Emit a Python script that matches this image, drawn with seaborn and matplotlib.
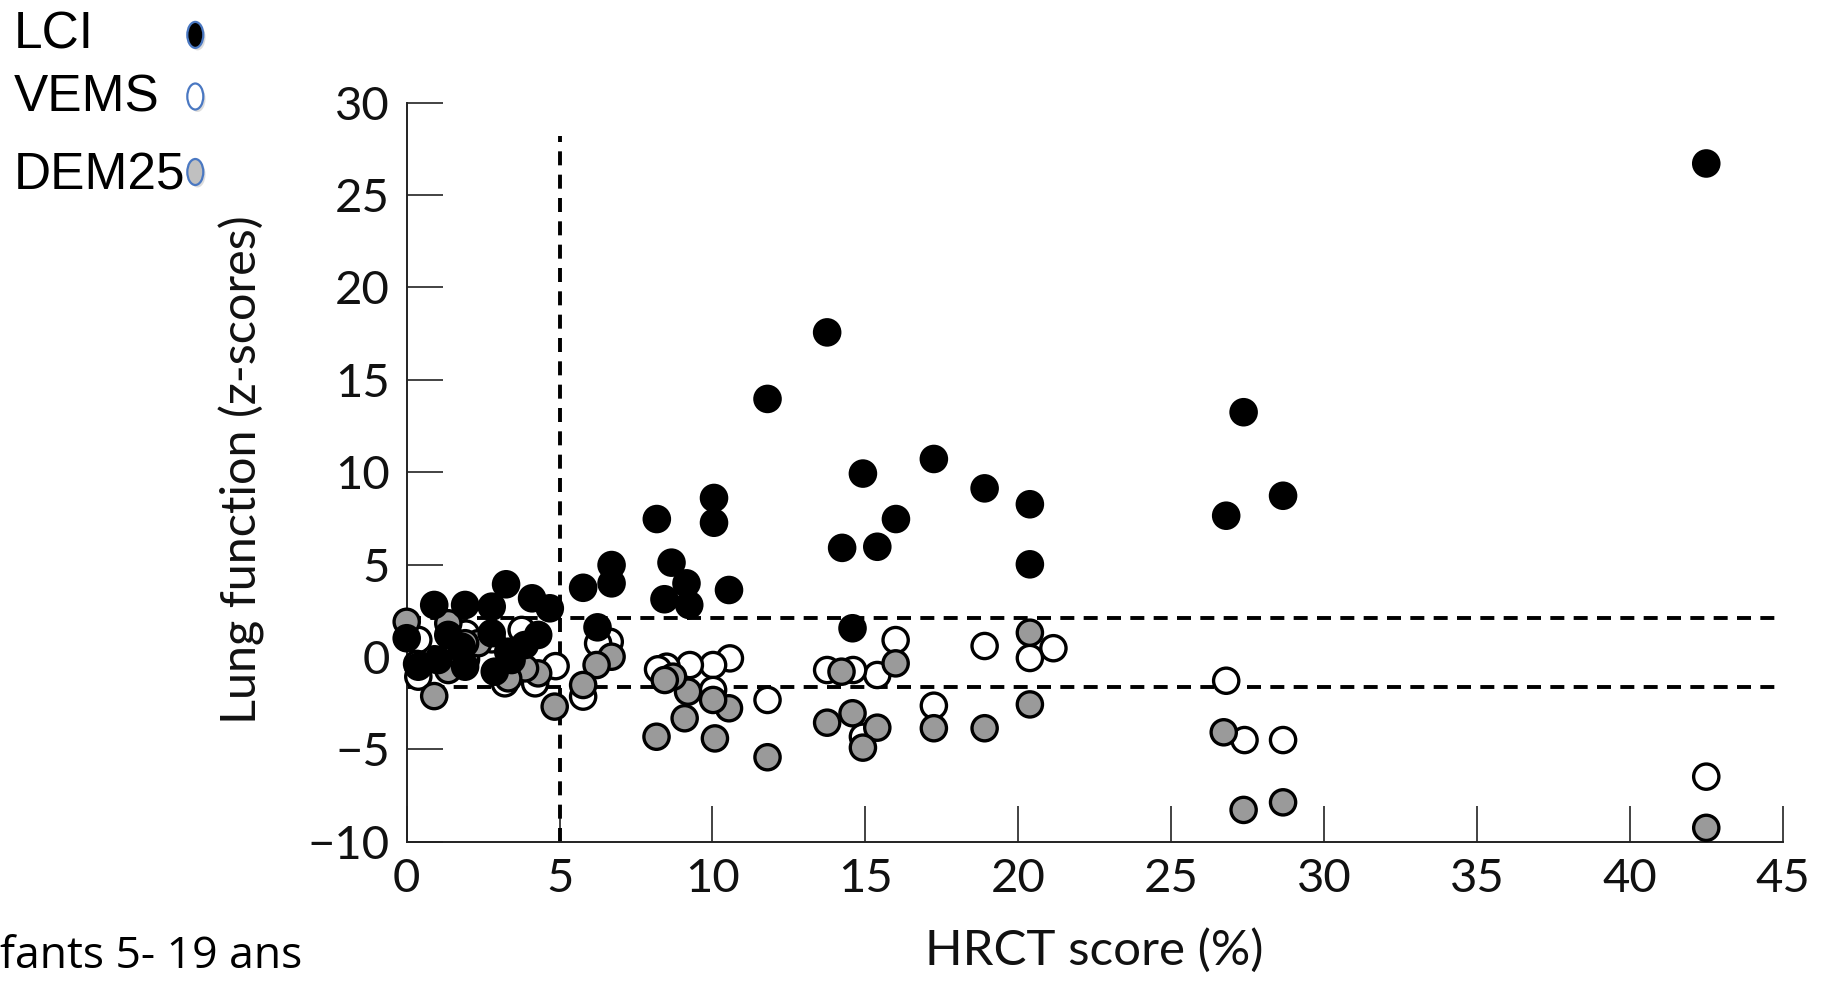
import matplotlib
matplotlib.use("Agg")
import matplotlib.pyplot as plt
from matplotlib.patches import Ellipse
import seaborn as sns
import pandas as pd

# ---------------- data ----------------
lci_x = [42.5, 28.66, 27.37, 26.8, 20.38, 20.38, 18.9, 17.24, 16.0, 15.39, 14.92, 14.24,
         14.58, 13.75, 11.8, 10.54, 10.05, 10.05, 9.24, 9.15, 8.66, 8.43, 8.18, 6.70, 6.70,
         6.24, 5.77, 4.68, 4.10, 3.25, 2.78, 1.91, 0.90, 0.0, 1.36, 2.78, 4.3, 3.86, 1.80,
         0.38, 1.03, 1.91, 2.88, 3.32, 3.43]
lci_y = [26.7, 8.72, 13.24, 7.64, 8.26, 5.01, 9.12, 10.71, 7.46, 5.96, 9.92, 5.9,
         1.55, 17.56, 13.96, 3.62, 8.6, 7.26, 2.81, 3.98, 5.10, 3.12, 7.46, 4.97, 3.98,
         1.60, 3.74, 2.63, 3.17, 3.93, 2.72, 2.81, 2.81, 1.01, 1.19, 1.28, 1.19, 0.64, 0.55,
         -0.53, -0.17, -0.53, -0.8, 0.28, -0.17]

vems_x = [42.5, 28.66, 27.4, 26.8, 21.15, 20.38, 18.9, 17.24, 15.99, 15.39, 14.6, 13.75,
          14.92, 11.8, 10.57, 10.02, 10.02, 9.26, 8.5, 8.22, 6.64, 6.26, 5.77, 4.87, 4.2,
          3.21, 3.76, 2.78, 1.94, 0.38, 0.38, 0.91, 1.94]
vems_y = [-6.48, -4.5, -4.5, -1.29, 0.47, -0.06, 0.59, -2.64, 0.91, -0.98, -0.71, -0.71,
          -4.32, -2.33, -0.08, -0.44, -1.79, -0.44, -0.53, -0.67, 0.82, 0.73, -2.15, -0.5, -1.43,
          -1.43, 1.46, 0.95, 1.26, 0.92, -1.07, -0.13, -0.13]

dem_x = [42.5, 28.66, 27.37, 26.72, 20.38, 20.38, 18.9, 17.24, 15.99, 15.39, 14.92, 14.58,
         14.22, 13.75, 11.8, 10.54, 10.08, 10.02, 9.2, 9.09, 8.71, 8.44, 8.17, 6.70, 6.21,
         5.77, 4.84, 4.3, 3.87, 3.32, 2.34, 1.91, 1.36, 1.36, 0.9, 0.0, 0.34]
dem_y = [-9.25, -7.87, -8.28, -4.08, 1.31, -2.57, -3.86, -3.86, -0.35, -3.83, -4.91, -3.05,
         -0.8, -3.56, -5.43, -2.78, -4.41, -2.33, -1.88, -3.32, -1.07, -1.25, -4.32, 0.01, -0.44,
         -1.52, -2.69, -0.89, -0.62, -1.16, 0.74, 0.74, 1.82, -0.71, -2.12, 1.9, -0.38]

series_names = ["VEMS", "DEM25", "LCI"]
legend_labels = ["LCI", "VEMS", "DEM25"]
upper_limit = 2.1
lower_limit = -1.64
hrct_cut = 5
xticks = [0, 5, 10, 15, 20, 25, 30, 35, 40, 45]
yticks = [-10, -5, 0, 5, 10, 15, 20, 25, 30]

df = pd.concat([
    pd.DataFrame({"x": vems_x, "y": vems_y, "series": "VEMS"}),
    pd.DataFrame({"x": dem_x, "y": dem_y, "series": "DEM25"}),
    pd.DataFrame({"x": lci_x, "y": lci_y, "series": "LCI"}),
], ignore_index=True)

# ---------------- style ----------------
sns.set_style("white")
plt.rcParams["font.family"] = ["Lato", "DejaVu Sans"]
plt.rcParams["axes.unicode_minus"] = True

W, H = 1823, 981
fig = plt.figure(figsize=(W / 100, H / 100), dpi=100)
x0, x1 = 406.7, 1782.7
yb, yt = 841.7, 102.5
ax = fig.add_axes([x0 / W, 1 - yb / H, (x1 - x0) / W, (yb - yt) / H])

palette = {"LCI": "#000000", "VEMS": "#ffffff", "DEM25": "#9a9a9a"}
sns.scatterplot(data=df, x="x", y="y", hue="series", palette=palette,
                hue_order=series_names, edgecolor="black", linewidth=2.4,
                s=330, legend=False, ax=ax, clip_on=False, zorder=3)

dash = (0, (3.6, 2.4))
ax.hlines([upper_limit, lower_limit], 0, 44.8, colors="black", linewidth=2.8,
          linestyles=[dash], zorder=2)
ax.vlines(hrct_cut, -10, 28.2, colors="black", linewidth=2.8, linestyles=[dash], zorder=2)

ax.set_xlim(0, 45)
ax.set_ylim(-10, 30)
ax.set_xticks(xticks)
ax.set_yticks(yticks)
ax.set_xticklabels([str(t) for t in xticks])
ax.set_yticklabels([str(t).replace("-", "\u2212") for t in yticks])
for s in ["top", "right"]:
    ax.spines[s].set_visible(False)
for s in ["left", "bottom"]:
    ax.spines[s].set_color("#222222")
    ax.spines[s].set_linewidth(1.4)
ax.tick_params(axis="both", which="major", left=True, bottom=True, direction="in",
               length=26, width=1.2, colors="#222222", labelsize=34, labelcolor="#111111")
ax.tick_params(axis="y", pad=12)
ax.tick_params(axis="x", pad=12)

ax.set_xlabel("HRCT score (%)", fontsize=35.5, color="#111111")
ax.set_ylabel("Lung function (z-scores)", fontsize=35, color="#111111")
ax.xaxis.set_label_coords(0.5, -0.117)
ax.yaxis.set_label_coords(-0.103, 0.504)

# ---------------- legend (top-left) ----------------
leg_font = ["Liberation Sans", "DejaVu Sans"]
baselines = [48.8, 111.6, 189.5]
centers = [34.9, 96.5, 172.0]
fills = ["#000000", "#ffffff", "#c0c0c0"]
for lab, bl, cy, fc in zip(legend_labels, baselines, centers, fills):
    fig.text(14 / W, 1 - bl / H, lab, fontsize=37, family=leg_font, va="baseline",
             ha="left", color="black")
    fig.add_artist(Ellipse((197.5 / W, 1 - (cy + 2.5) / H), 16 / W, 26 / H,
                           transform=fig.transFigure, facecolor="#bbbbbb",
                           edgecolor="none", alpha=0.5))
    fig.add_artist(Ellipse((195.3 / W, 1 - cy / H), 16 / W, 26 / H,
                           transform=fig.transFigure, facecolor=fc,
                           edgecolor="#4a78c2", linewidth=1.6))

fig.text(0 / W, 1 - 968 / H, "fants 5- 19 ans", fontsize=32,
         family=["Open Sans", "DejaVu Sans"], va="baseline", ha="left", color="black")

fig.savefig("out.png", dpi=100)
